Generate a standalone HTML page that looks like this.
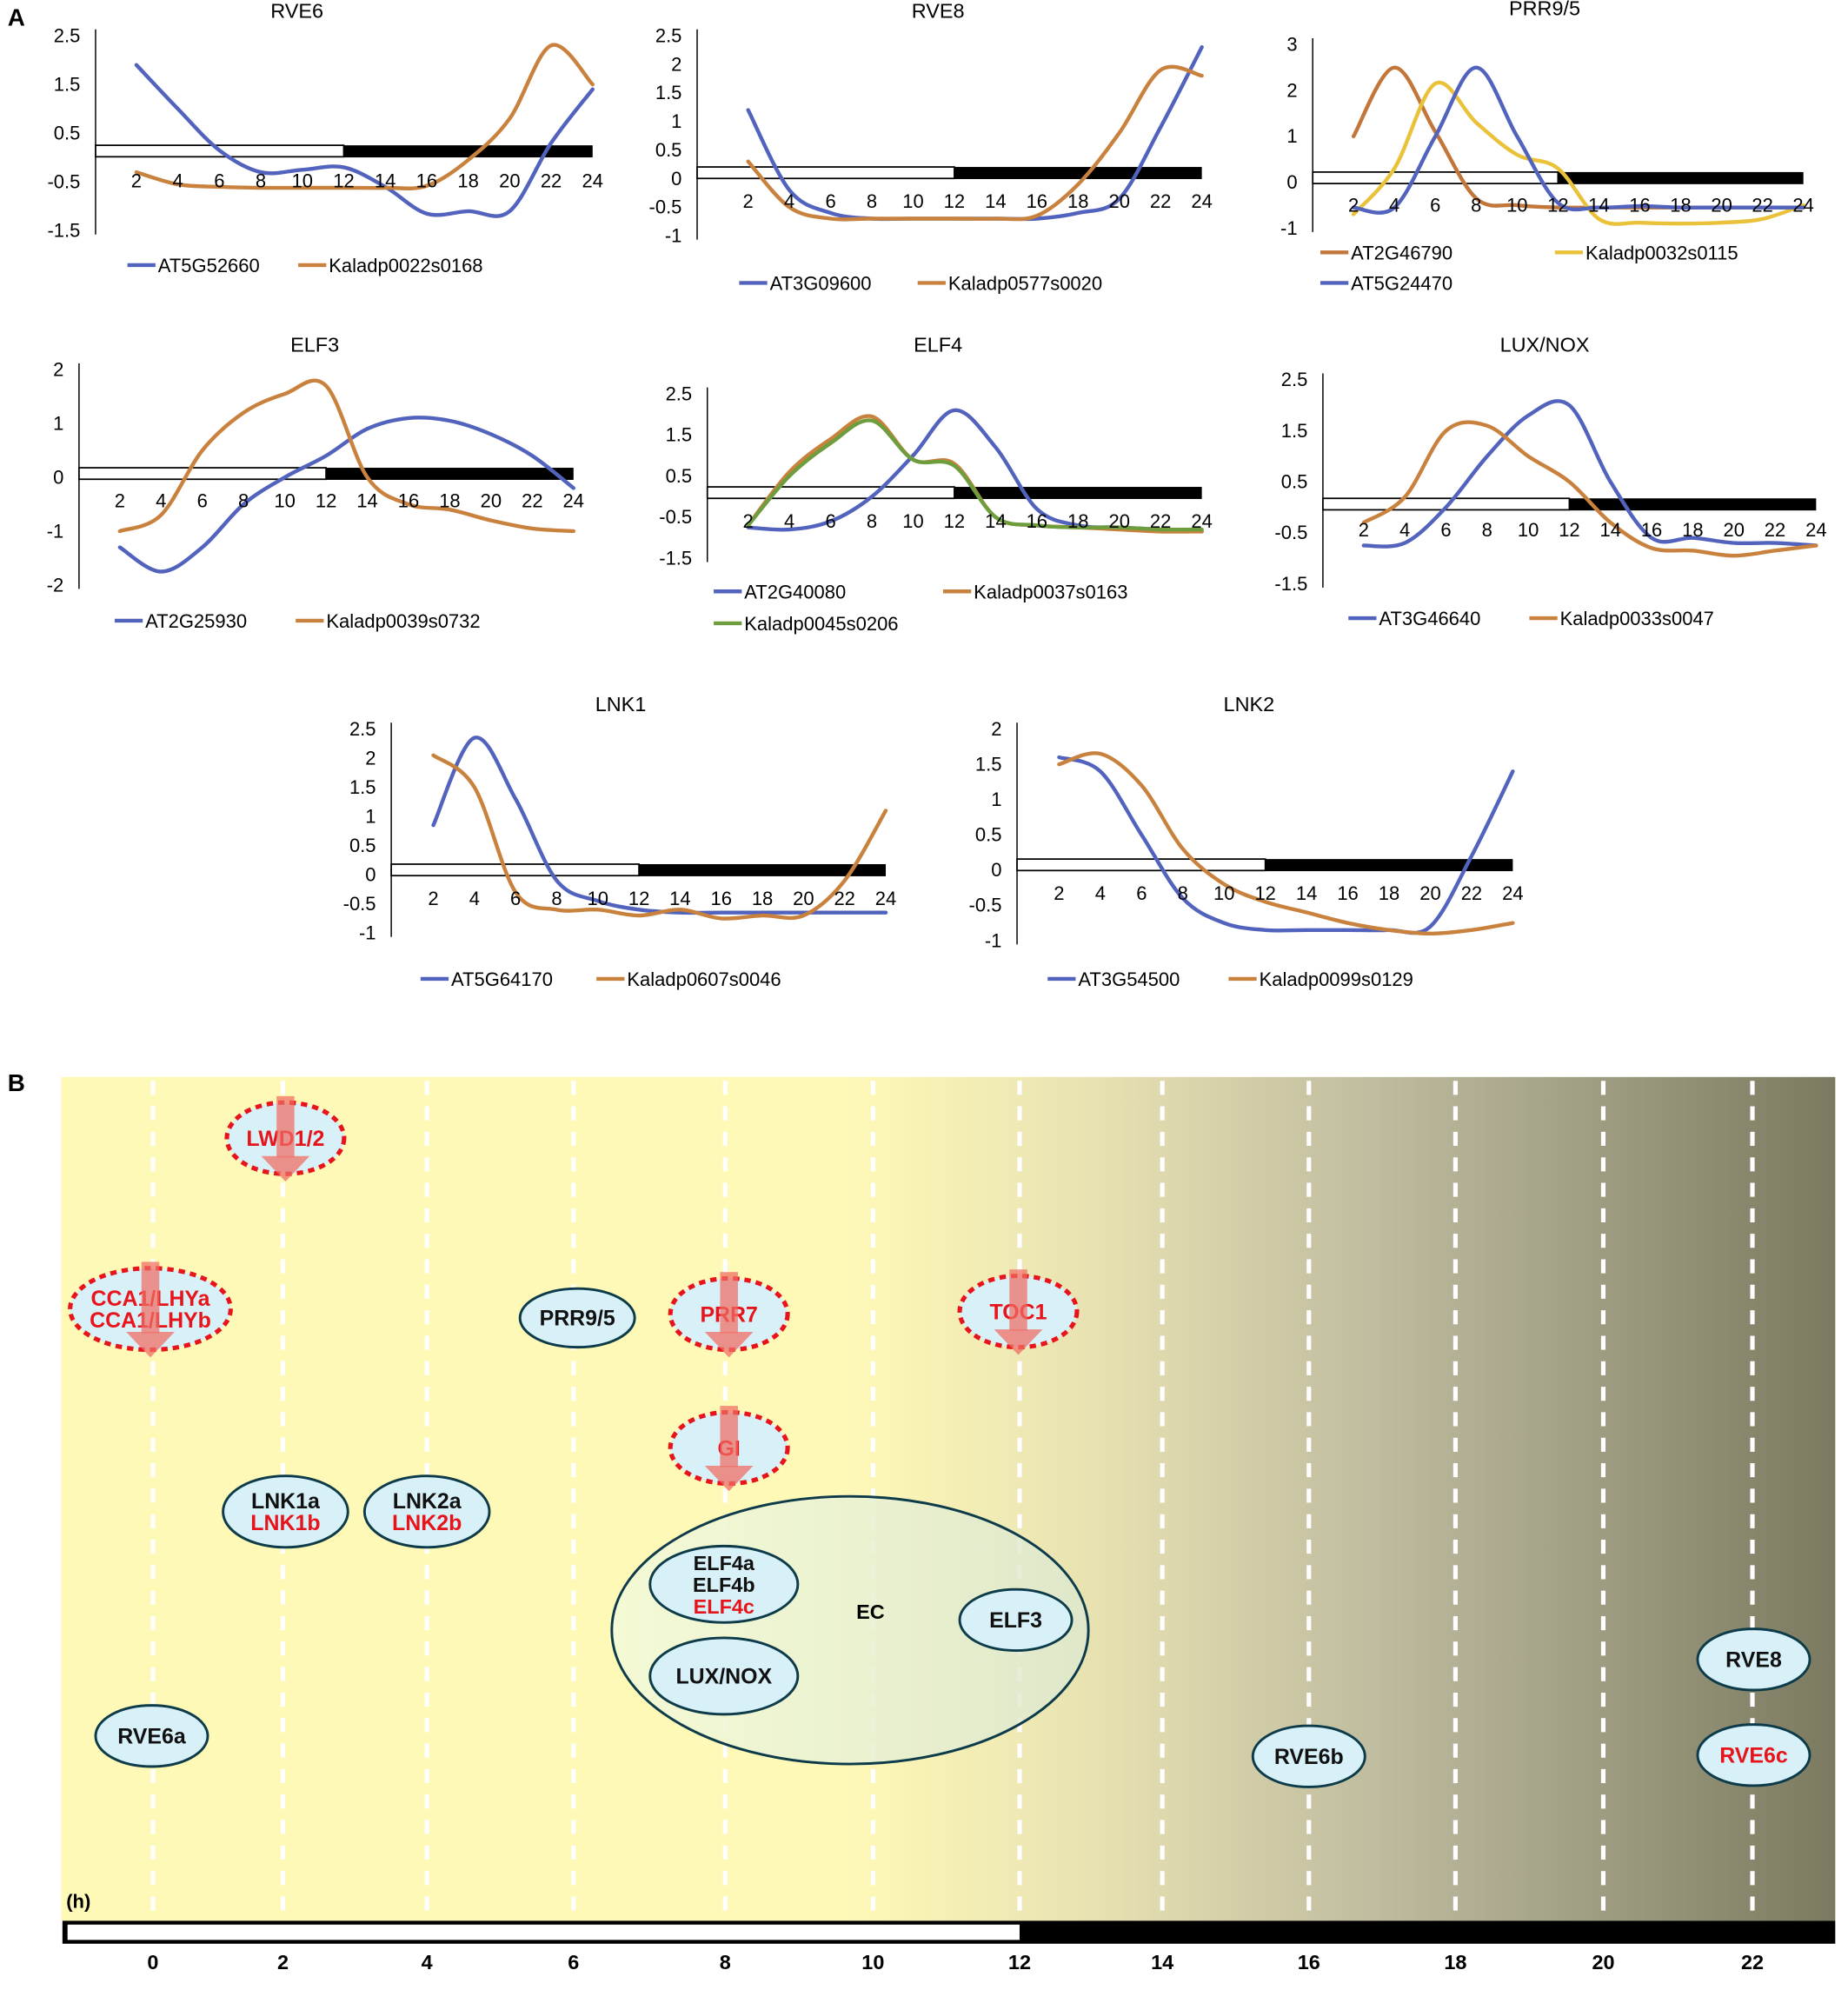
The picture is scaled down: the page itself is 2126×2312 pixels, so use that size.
<!DOCTYPE html>
<html><head><meta charset="utf-8">
<style>
html,body{margin:0;padding:0;background:#fff;}
svg{display:block;}
text{font-family:"Liberation Sans",Arial,sans-serif;}
</style></head>
<body>
<svg id="fig" width="2126" height="2312" viewBox="0 0 1450 1577" preserveAspectRatio="none" xmlns="http://www.w3.org/2000/svg">
<defs>
<linearGradient id="bg" x1="0" x2="1" y1="0" y2="0">
<stop offset="0" stop-color="#FFF9B8"/>
<stop offset="0.44" stop-color="#FFF9B8"/>
<stop offset="0.58" stop-color="#E8E2B2"/>
<stop offset="0.75" stop-color="#BDBA9E"/>
<stop offset="1" stop-color="#7B7A60"/>
</linearGradient>
<linearGradient id="ecg" x1="0" x2="1" y1="0" y2="0">
<stop offset="0" stop-color="#F3FAD8" stop-opacity="0.9"/>
<stop offset="1" stop-color="#DDE8D0" stop-opacity="0.8"/>
</linearGradient>
</defs>
<text x="6" y="20" font-size="19" font-weight="bold">A</text>
<g id="charts"></g>
<g id="panelB"></g>
</svg>
<script>
// ---------- Panel A data ----------
const hours = [2,4,6,8,10,12,14,16,18,20,22,24];
const rve6Blue   = [1.9,1.0,0.15,-0.3,-0.25,-0.2,-0.6,-1.15,-1.1,-1.1,0.3,1.4];
const rve6Orange = [-0.3,-0.55,-0.6,-0.62,-0.62,-0.62,-0.62,-0.58,-0.05,0.8,2.3,1.5];
const rve8Blue   = [1.2,-0.2,-0.6,-0.7,-0.7,-0.7,-0.7,-0.7,-0.6,-0.35,0.9,2.3];
const rve8Orange = [0.3,-0.5,-0.7,-0.7,-0.7,-0.7,-0.7,-0.65,-0.1,0.8,1.9,1.8];
const prrOrange  = [1.0,2.5,1.1,-0.35,-0.5,-0.55,-0.55,-0.55,-0.55,-0.55,-0.55,-0.55];
const prrYellow  = [-0.7,0.3,2.15,1.3,0.6,0.3,-0.8,-0.88,-0.9,-0.88,-0.8,-0.5];
const prrBlue    = [-0.55,-0.55,1.0,2.5,1.0,-0.45,-0.55,-0.52,-0.55,-0.55,-0.55,-0.55];
const elf3Blue   = [-1.3,-1.75,-1.3,-0.5,0.0,0.4,0.9,1.1,1.05,0.8,0.4,-0.2];
const elf3Orange = [-1.0,-0.7,0.5,1.2,1.55,1.7,0.0,-0.5,-0.6,-0.8,-0.95,-1.0];
const elf4Blue   = [-0.75,-0.8,-0.6,0.0,1.0,2.1,1.2,-0.3,-0.7,-0.75,-0.8,-0.85];
const elf4Orange = [-0.7,0.6,1.4,1.95,0.9,0.8,-0.5,-0.7,-0.75,-0.8,-0.85,-0.85];
const elf4Green  = [-0.7,0.5,1.3,1.85,0.9,0.75,-0.5,-0.7,-0.75,-0.75,-0.8,-0.8];
const luxBlue    = [-0.75,-0.7,0.0,1.0,1.8,2.0,0.5,-0.6,-0.6,-0.7,-0.7,-0.75];
const luxOrange  = [-0.3,0.2,1.5,1.6,1.0,0.5,-0.3,-0.8,-0.85,-0.95,-0.85,-0.75];
const lnk1Blue   = [0.85,2.35,1.3,-0.1,-0.45,-0.6,-0.65,-0.65,-0.65,-0.65,-0.65,-0.65];
const lnk1Orange = [2.05,1.5,-0.3,-0.6,-0.6,-0.7,-0.6,-0.75,-0.7,-0.7,-0.1,1.1];
const lnk2Blue   = [1.6,1.4,0.5,-0.4,-0.75,-0.85,-0.85,-0.85,-0.85,-0.8,0.2,1.4];
const lnk2Orange = [1.5,1.65,1.2,0.3,-0.2,-0.45,-0.6,-0.75,-0.85,-0.9,-0.85,-0.75];
const rve6Ticks = ["2.5","1.5","0.5","-0.5","-1.5"];
const rve8Ticks = ["2.5","2","1.5","1","0.5","0","-0.5","-1"];
const prrTicks  = ["3","2","1","0","-1"];
const elf3Ticks = ["2","1","0","-1","-2"];
const elf4Ticks = ["2.5","1.5","0.5","-0.5","-1.5"];
const luxTicks  = ["2.5","1.5","0.5","-0.5","-1.5"];
const lnk1Ticks = ["2.5","2","1.5","1","0.5","0","-0.5","-1"];
const lnk2Ticks = ["2","1.5","1","0.5","0","-0.5","-1"];

const BLUE="#5263BE", ORANGE="#C9823E", YEL="#E9C23A", GREEN="#6D9D3C", BROWN="#C3763A";
const NS="http://www.w3.org/2000/svg";
function mk(tag,attrs,parent){const e=document.createElementNS(NS,tag);for(const k in attrs)e.setAttribute(k,attrs[k]);parent.appendChild(e);return e;}
function smooth(pts){let d="M"+pts[0][0]+","+pts[0][1];for(let i=0;i<pts.length-1;i++){const p0=pts[Math.max(0,i-1)],p1=pts[i],p2=pts[i+1],p3=pts[Math.min(pts.length-1,i+2)];const c1x=p1[0]+(p2[0]-p0[0])/6,c1y=p1[1]+(p2[1]-p0[1])/6,c2x=p2[0]-(p3[0]-p1[0])/6,c2y=p2[1]-(p3[1]-p1[1])/6;d+=" C"+c1x+","+c1y+" "+c2x+","+c2y+" "+p2[0]+","+p2[1];}return d;}

const charts=document.getElementById('charts');
function chart(c){
  const g=mk('g',{},charts);
  
  
  const vTop=parseFloat(c.ticks[0]),vBot=parseFloat(c.ticks[c.ticks.length-1]);
  const y=v=>c.yTop+(vTop-v)/(vTop-vBot)*(c.yBot-c.yTop);
  const x=h=>c.x2+(h-2)/22*(c.x24-c.x2);
  const t=mk('text',{x:c.tx,y:c.ty,'font-size':16,'text-anchor':'middle'},g);t.textContent=c.title;
  
  
  const ax=mk('line',{x1:c.ax,x2:c.ax,y1:c.yTop-5,y2:c.yBot+3,stroke:'#000','stroke-width':1},g);
  
  
  c.ticks.forEach(tk=>{const e=mk('text',{x:c.ax-12,y:y(parseFloat(tk))+5,'font-size':15,'text-anchor':'end'},g);e.textContent=tk;
    
    });
  const bw=mk('rect',{x:c.ax,y:c.barY,width:x(12)-c.ax,height:9,fill:'#fff',stroke:'#000','stroke-width':1.2},g);
  
  
  const bb=mk('rect',{x:x(12),y:c.barY,width:x(24)-x(12),height:9.5,fill:'#000'},g);
  
  
  c.series.forEach(s=>{const p=mk('path',{d:smooth(hours.map((h,i)=>[x(h),y(s.v[i])])),fill:'none',stroke:s.c,'stroke-width':3,'stroke-linecap':'round'},g);
    
    });
  hours.forEach(h=>{const e=mk('text',{x:x(h),y:c.xlY,'font-size':15,'text-anchor':'middle'},g);e.textContent=h;
    
    });
  c.series.forEach(s=>{const lg=mk('g',{},g);
    
    
    mk('line',{x1:s.lx,x2:s.lx+22,y1:s.ly,y2:s.ly,stroke:s.c,'stroke-width':3},lg);
    const e=mk('text',{x:s.lx+24,y:s.ly+5.5,'font-size':15},lg);e.textContent=s.n;});
}
chart({id:'rve6',title:'RVE6',tx:233,ty:14,ax:75,yTop:28,yBot:181,ticks:rve6Ticks,x2:107,x24:465,barY:114,xlY:147,
 series:[{n:'AT5G52660',v:rve6Blue,c:BLUE,lx:100,ly:208},{n:'Kaladp0022s0168',v:rve6Orange,c:ORANGE,lx:234,ly:208}]});
chart({id:'rve8',title:'RVE8',tx:736,ty:14,ax:547,yTop:28,yBot:185,ticks:rve8Ticks,x2:587,x24:943,barY:131,xlY:163,
 series:[{n:'AT3G09600',v:rve8Blue,c:BLUE,lx:580,ly:222},{n:'Kaladp0577s0020',v:rve8Orange,c:ORANGE,lx:720,ly:222}]});
chart({id:'prr95',title:'PRR9/5',tx:1212,ty:12,ax:1030,yTop:35,yBot:179,ticks:prrTicks,x2:1062,x24:1415,barY:135,xlY:166,
 series:[{n:'AT2G46790',v:prrOrange,c:BROWN,lx:1036,ly:198},{n:'Kaladp0032s0115',v:prrYellow,c:YEL,lx:1220,ly:198},{n:'AT5G24470',v:prrBlue,c:BLUE,lx:1036,ly:222}]});
chart({id:'elf3',title:'ELF3',tx:247,ty:276,ax:62,yTop:290,yBot:459,ticks:elf3Ticks,x2:94,x24:450,barY:367,xlY:398,
 series:[{n:'AT2G25930',v:elf3Blue,c:BLUE,lx:90,ly:487},{n:'Kaladp0039s0732',v:elf3Orange,c:ORANGE,lx:232,ly:487}]});
chart({id:'elf4',title:'ELF4',tx:736,ty:276,ax:555,yTop:309,yBot:438,ticks:elf4Ticks,x2:587,x24:943,barY:382,xlY:414,
 series:[{n:'AT2G40080',v:elf4Blue,c:BLUE,lx:560,ly:464},{n:'Kaladp0037s0163',v:elf4Orange,c:ORANGE,lx:740,ly:464},{n:'Kaladp0045s0206',v:elf4Green,c:GREEN,lx:560,ly:489}]});
chart({id:'luxnox',title:'LUX/NOX',tx:1212,ty:276,ax:1038,yTop:298,yBot:458,ticks:luxTicks,x2:1070,x24:1425,barY:391,xlY:421,
 series:[{n:'AT3G46640',v:luxBlue,c:BLUE,lx:1058,ly:485},{n:'Kaladp0033s0047',v:luxOrange,c:ORANGE,lx:1200,ly:485}]});
chart({id:'lnk1',title:'LNK1',tx:487,ty:558,ax:307,yTop:572,yBot:732,ticks:lnk1Ticks,x2:340,x24:695,barY:678,xlY:710,
 series:[{n:'AT5G64170',v:lnk1Blue,c:BLUE,lx:330,ly:768},{n:'Kaladp0607s0046',v:lnk1Orange,c:ORANGE,lx:468,ly:768}]});
chart({id:'lnk2',title:'LNK2',tx:980,ty:558,ax:798,yTop:572,yBot:738,ticks:lnk2Ticks,x2:831,x24:1187,barY:674,xlY:706,
 series:[{n:'AT3G54500',v:lnk2Blue,c:BLUE,lx:822,ly:768},{n:'Kaladp0099s0129',v:lnk2Orange,c:ORANGE,lx:964,ly:768}]});

// ---------- Panel B ----------
const bHours=[0,2,4,6,8,10,12,14,16,18,20,22];
const B=document.getElementById('panelB');
// hour -> x mapping (piecewise, matching the drawn diagram layout)
const hourAnchors=[120,222,335,450,569,685,800,912,1027,1142,1258,1375];
const hx=h=>hourAnchors[Math.round(h/2)];
let e;
e=mk('text',{x:6,y:856,'font-size':19,'font-weight':'bold'},B);e.textContent='B';


e=mk('rect',{x:48,y:845,width:1392,height:662,fill:'url(#bg)'},B);


bHours.forEach(h=>{const l=mk('line',{x1:hx(h),x2:hx(h),y1:848,y2:1505,stroke:'#fff','stroke-width':3.5,'stroke-dasharray':'11 9'},B);
  
  });
e=mk('rect',{x:49,y:1507,width:1391,height:18,fill:'#000'},B);


e=mk('rect',{x:53,y:1510,width:hx(12)-53,height:12,fill:'#fff'},B);


bHours.forEach(h=>{const t=mk('text',{x:hx(h),y:1545,'font-size':16,'font-weight':'bold','text-anchor':'middle'},B);t.textContent=h;
  
  });
e=mk('text',{x:52,y:1497,'font-size':15,'font-weight':'bold'},B);e.textContent='(h)';



// EC complex
e=mk('ellipse',{cx:667,cy:1279,rx:187,ry:105,fill:'url(#ecg)',stroke:'#0D3B4A','stroke-width':2},B);


e=mk('text',{x:683,y:1270,'font-size':16,'font-weight':'bold','text-anchor':'middle'},B);e.textContent='EC';



function node(name,cx,cy,rx,ry,lines,dashed,arrow){
  const g=mk('g',{},B);
  
  
  if(dashed){mk('ellipse',{cx,cy,rx,ry,fill:'#D8F1F8',stroke:'#E8141B','stroke-width':3.5,'stroke-dasharray':'5 4'},g);}
  else mk('ellipse',{cx,cy,rx,ry,fill:'#D8F1F8',stroke:'#0D3B4A','stroke-width':2},g);
  const n=lines.length, lh=17;
  lines.forEach((ln,i)=>{const t=mk('text',{x:cx,y:cy+6+(i-(n-1)/2)*lh,'font-size':n>2?16:17,'font-weight':'bold','text-anchor':'middle',fill:ln[1]},g);t.textContent=ln[0];});
  if(arrow){
    mk('rect',{x:cx-7,y:cy-ry-5,width:14,height:ry*2-8,fill:'rgba(240,110,100,0.72)'},g);
    mk('polygon',{points:(cx-19)+','+(cy+ry-14)+' '+(cx+19)+','+(cy+ry-14)+' '+cx+','+(cy+ry+6),fill:'rgba(240,110,100,0.75)'},g);
  }
}
const K='#111', R='#E8141B';
node('lwd-node',224,893,46,28,[['LWD1/2',R]],true,true);
node('cca1-lhy-node',118,1027,63,32,[['CCA1/LHYa',R],['CCA1/LHYb',R]],true,true);
node('prr95-node',453,1034,45,23,[['PRR9/5',K]],false,false);
node('prr7-node',572,1031,46,28,[['PRR7',R]],true,true);
node('toc1-node',799,1029,46,28,[['TOC1',R]],true,true);
node('gi-node',572,1136,46,28,[['GI',R]],true,true);
node('lnk1-node',224,1186,49,28,[['LNK1a',K],['LNK1b',R]],false,false);
node('lnk2-node',335,1186,49,28,[['LNK2a',K],['LNK2b',R]],false,false);
node('elf4-node',568,1243,58,30,[['ELF4a',K],['ELF4b',K],['ELF4c',R]],false,false);
node('lux-nox-node',568,1315,58,30,[['LUX/NOX',K]],false,false);
node('elf3-node',797,1271,44,24,[['ELF3',K]],false,false);
node('rve6a-node',119,1362,44,24,[['RVE6a',K]],false,false);
node('rve6b-node',1027,1378,44,24,[['RVE6b',K]],false,false);
node('rve8-node',1376,1302,44,24,[['RVE8',K]],false,false);
node('rve6c-node',1376,1377,44,24,[['RVE6c',R]],false,false);
</script>
</body></html>
